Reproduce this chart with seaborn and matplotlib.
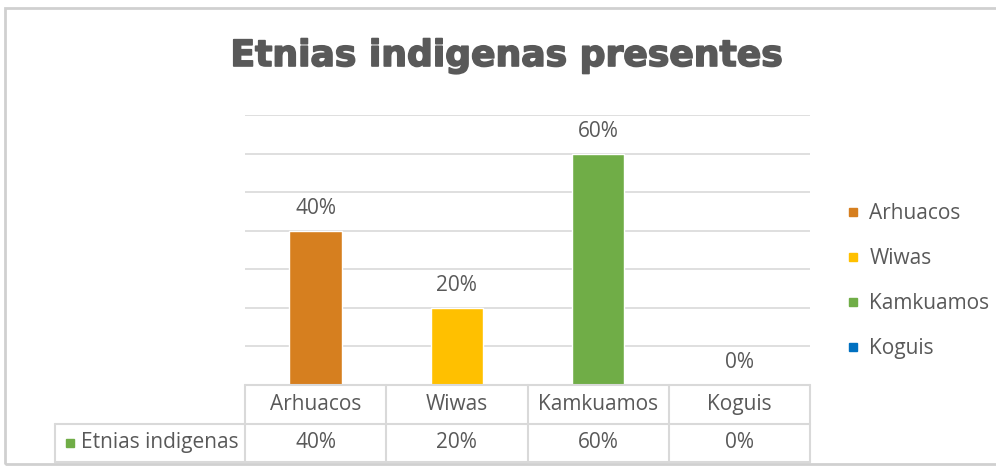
import numpy as np
import pandas as pd
import seaborn as sns
import matplotlib.pyplot as plt
import matplotlib.patheffects as pe
from matplotlib import transforms
from matplotlib.lines import Line2D
from matplotlib.patches import Rectangle

# datos del grafico
etnias = ['Arhuacos', 'Wiwas', 'Kamkuamos', 'Koguis']
porcentajes = [0.40, 0.20, 0.60, 0.0]
colores = ['#D67F1F', '#FFC000', '#70AD47', '#0070C0']
serie = 'Etnias indigenas'
titulo = 'Etnias indigenas presentes'

df = pd.DataFrame({'etnia': etnias, 'valor': porcentajes})

sns.set_theme(style='white')
plt.rcParams['font.family'] = ['Open Sans', 'DejaVu Sans']
gris = '#595959'
linea = '#D9D9D9'
fs = 15
W, H = 996, 468

fig = plt.figure(figsize=(W / 100, H / 100), dpi=100)
ax = fig.add_axes([245 / W, 1 - 385 / H, (810 - 245) / W, (385 - 115) / H])

sns.barplot(data=df, x='etnia', y='valor', hue='etnia', palette=colores,
            width=0.37, saturation=1, legend=False, ax=ax)

ax.set_xlim(-0.5, 3.5)
ax.set_ylim(0, 0.7)
ax.set_yticks(np.arange(0, 0.71, 0.1))
ax.yaxis.grid(True, color=linea, lw=1.2)
ax.set_axisbelow(True)
ax.set_xticks([])
ax.set_yticklabels([])
ax.tick_params(left=False, bottom=False)
ax.set_xlabel('')
ax.set_ylabel('')
for s in ax.spines.values():
    s.set_visible(False)

# etiquetas de valor encima de las barras
for i, v in enumerate(porcentajes):
    ax.annotate(f'{v:.0%}', (i, v), xytext=(0, 22), textcoords='offset pixels',
                ha='center', va='center', fontsize=fs, color=gris)

# tabla de datos debajo del eje
tr = transforms.blended_transform_factory(ax.transData, ax.transAxes)
alto = 385 - 115
r1 = -38.5 / alto
r2 = -77 / alto
x_izq = -0.5 - (245 - 55) / 141.25
kw = dict(transform=tr, color=linea, lw=1.5, clip_on=False)
for xv in np.arange(-0.5, 4, 1):
    ax.add_line(Line2D([xv, xv], [0, r2], **kw))
ax.add_line(Line2D([x_izq, x_izq], [r1, r2], **kw))
ax.add_line(Line2D([x_izq, 3.5], [r1, r1], **kw))
ax.add_line(Line2D([x_izq, 3.5], [r2, r2], **kw))
ax.add_line(Line2D([-0.5, 3.5], [0, 0], **kw))

for i, (e, v) in enumerate(zip(etnias, porcentajes)):
    ax.text(i, r1 / 2, e, transform=tr, ha='center', va='center', fontsize=fs, color=gris)
    ax.text(i, (r1 + r2) / 2, f'{v:.0%}', transform=tr, ha='center', va='center',
            fontsize=fs, color=gris)

x_marca = -0.5 - (245 - 70) / 141.25
x_texto = -0.5 - (245 - 81) / 141.25
ax.plot([x_marca], [(r1 + r2) / 2], marker='s', ms=5.5, color=colores[2],
        transform=tr, clip_on=False)
ax.text(x_texto, (r1 + r2) / 2, serie, transform=tr, ha='left', va='center',
        fontsize=fs, color=gris)

# leyenda
handles = [Line2D([], [], marker='s', ls='', color=c, ms=6) for c in colores]
fig.legend(handles, etnias, loc='center left', bbox_to_anchor=(838 / W, 1 - 281 / H),
           frameon=False, fontsize=fs, labelcolor=gris, handlelength=0.6,
           handletextpad=0.5, labelspacing=1.15, borderaxespad=0)

# titulo
fig.text(507 / W, 1 - 66 / H, titulo, ha='center', va='baseline', fontsize=26,
         fontweight='bold', family='DejaVu Sans', color=gris,
         path_effects=[pe.withStroke(linewidth=1.2, foreground=gris)])

# marco del grafico
fig.add_artist(Rectangle((5 / W, 4 / H), 1, (460 - 4) / H, transform=fig.transFigure,
                         fill=False, ec='#D0D0D0', lw=2))

fig.savefig('out.png', dpi=100)
